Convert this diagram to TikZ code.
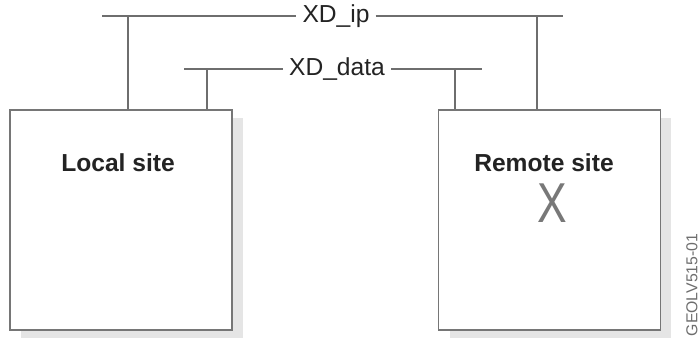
\documentclass[tikz,border=0pt]{standalone}
\usepackage{fontspec}
\setmainfont{Liberation Sans}
\usepackage{tikz}
\usetikzlibrary{
  positioning,
  calc,
  shadows
}
\definecolor{linegray}{RGB}{110,110,110}
\definecolor{boxgray}{RGB}{118,118,118}
\definecolor{shadowgray}{RGB}{229,229,229}
\definecolor{textdark}{RGB}{35,35,35}
\definecolor{markgray}{RGB}{120,120,120}

\begin{document}
\begin{tikzpicture}[x=0.02cm, y=-0.02cm,
    every node/.style={font=\fontsize{14}{16}\selectfont, text=textdark},
    bus/.style={draw=linegray, line width=1.1pt},
    site/.style={draw=boxgray, fill=white, line width=1.1pt,
        minimum width=4.44cm, minimum height=4.4cm, inner sep=0pt,
        drop shadow={shadow xshift=0.22cm, shadow yshift=-0.16cm, fill=shadowgray, opacity=1}},
    sitename/.style={font=\bfseries\fontsize{14}{16}\selectfont}]
            \useasboundingbox (0,0) rectangle (699,339);

            % Site boxes (top edge at y = 110, bottom at y = 330)
            \node[site] (local) at (121,220) {};
            \node[site] (remote) at (549.5,220) {};
            \node[sitename] (localname) at (118,163) {Local site};
            \node[sitename] (remotename) at (544,163) {Remote site};
            \node[font=\fontsize{32}{32}\selectfont, text=markgray, xscale=0.79] (lost) at (552,203) {X};

            % Bus labels
            \node (ip) at (336,16) {XD\_ip};
            \node (data) at (337,69) {XD\_data};

            % Bus ends and taps
            \coordinate (ipL) at (102,16);
            \coordinate (ipR) at (563,16);
            \coordinate (dataL) at (184,69);
            \coordinate (dataR) at (482,69);
            \coordinate (ipA) at (128,16);
            \coordinate (ipB) at (537,16);
            \coordinate (dataA) at (207,69);
            \coordinate (dataB) at (455,69);

            % XD_ip and XD_data lines
            \draw[bus] (ipL) -- (ip.west);
            \draw[bus] (ip.east) -- (ipR);
            \draw[bus] (dataL) -- (data.west);
            \draw[bus] (data.east) -- (dataR);

            % Drops down to the top borders of the sites
            \draw[bus] (ipA) -- (ipA |- local.north);
            \draw[bus] (dataA) -- (dataA |- local.north);
            \draw[bus] (dataB) -- (dataB |- remote.north);
            \draw[bus] (ipB) -- (ipB |- remote.north);

            % Figure id
            \node[font=\fontsize{9}{10}\selectfont, text=linegray, rotate=90] (figid) at (692,285) {GEOLV515-01};
        \end{tikzpicture}
\end{document}
